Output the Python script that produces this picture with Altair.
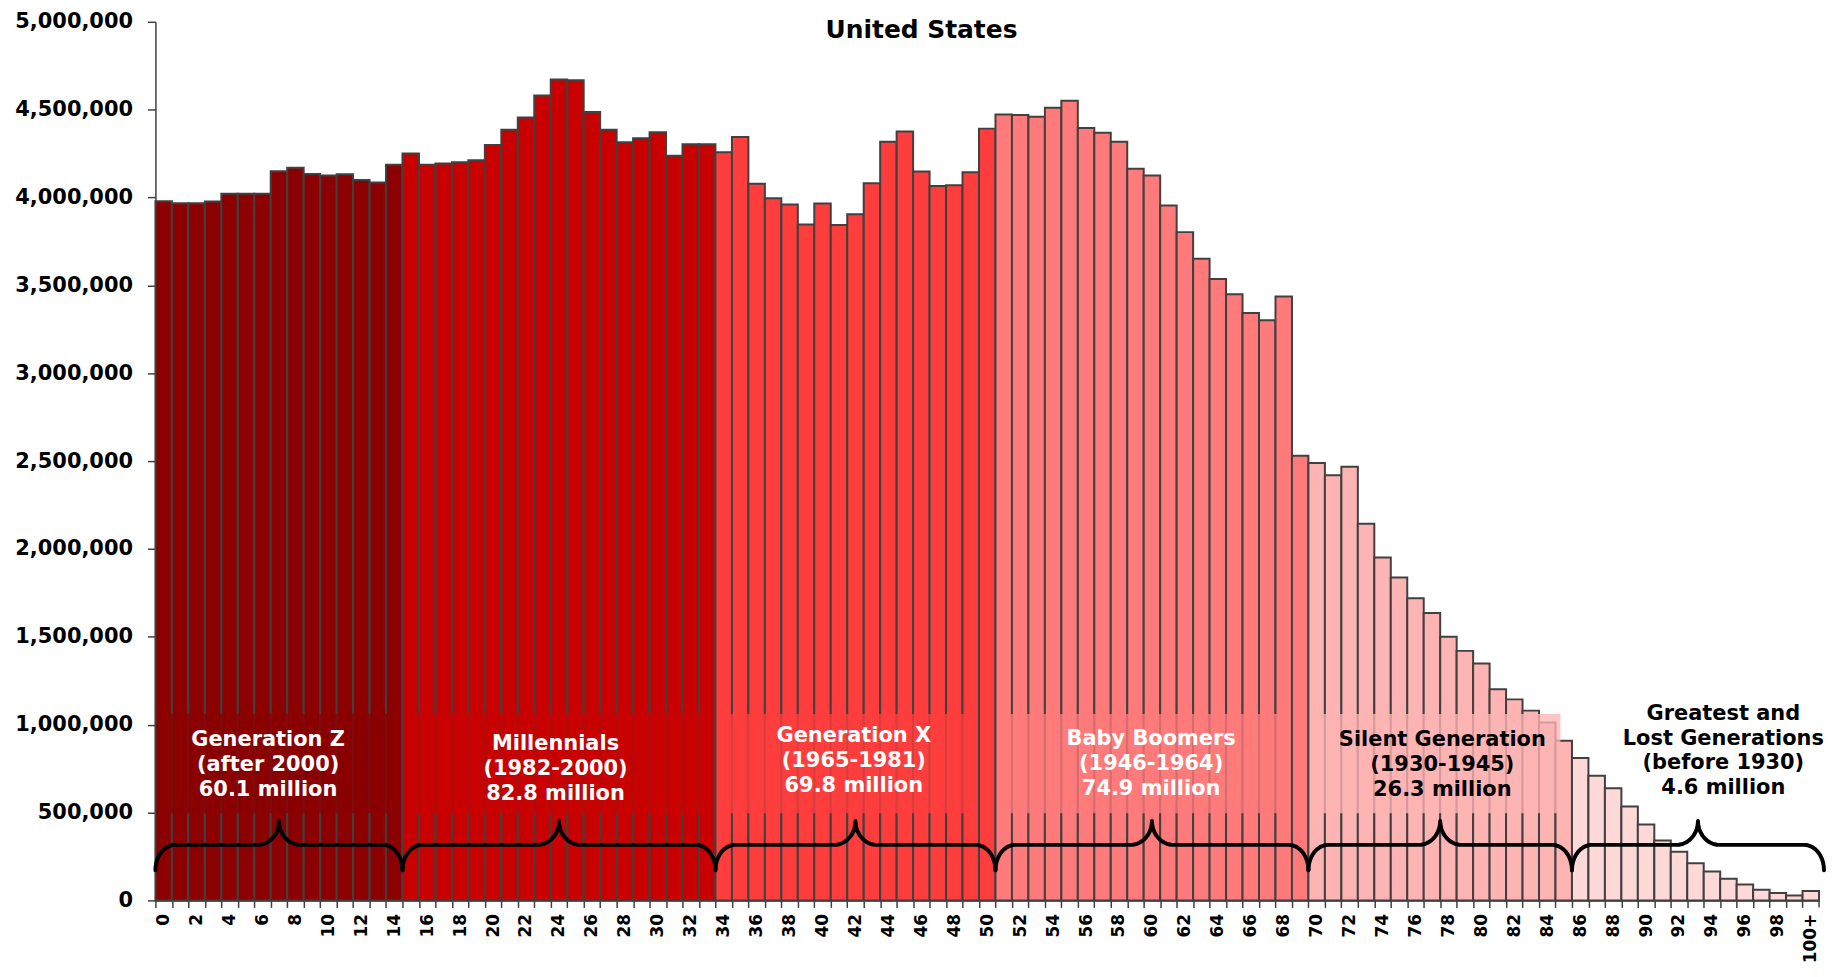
import altair as alt
import pandas as pd
import numpy as np

# ---------------- data ----------------
AGES = list(range(101))
AGE_LABELS = [str(a) for a in range(100)] + ["100+"]
POPULATION = [
    3979000, 3968000, 3968000, 3977000, 4021000, 4021000, 4021000, 4150000, 4169000, 4134000,
    4125000, 4133000, 4100000, 4085000, 4186000, 4250000, 4186000, 4193000, 4201000, 4212000,
    4299000, 4386000, 4455000, 4580000, 4672000, 4667000, 4487000, 4386000, 4314000, 4337000,
    4371000, 4237000, 4303000, 4303000, 4258000, 4345000, 4078000, 3996000, 3960000, 3847000,
    3966000, 3843000, 3905000, 4081000, 4318000, 4375000, 4148000, 4066000, 4070000, 4144000,
    4392000, 4473000, 4470000, 4460000, 4511000, 4551000, 4396000, 4369000, 4318000, 4163000,
    4125000, 3955000, 3803000, 3651000, 3536000, 3449000, 3343000, 3301000, 3436000, 2530000,
    2489000, 2420000, 2468000, 2144000, 1951000, 1837000, 1720000, 1636000, 1500000, 1420000,
    1348000, 1202000, 1144000, 1080000, 1013000, 909000, 811000, 710000, 638000, 534000,
    432000, 341000, 277000, 212000, 165000, 123000, 91000, 61000, 42000, 28000,
    53000,
]

GEN_NAMES = ["Generation Z", "Millennials", "Generation X", "Baby Boomers",
             "Silent Generation", "Greatest and Lost Generations"]
GEN_START = [0, 15, 34, 51, 70, 86]          # first age of each generation
GEN_END = [15, 34, 51, 70, 86, 101]          # bar edge after last age
GEN_COLORS = ["#8B0000", "#C80000", "#FF3D3D", "#FF7A7A", "#FFB4B4", "#FFD8D8"]
GEN_TEXT = [
    ["Generation Z", "(after 2000)", "60.1 million"],
    ["Millennials", "(1982-2000)", "82.8 million"],
    ["Generation X", "(1965-1981)", "69.8 million"],
    ["Baby Boomers", "(1946-1964)", "74.9 million"],
    ["Silent Generation", "(1930-1945)", "26.3 million"],
    ["Greatest and", "Lost Generations", "(before 1930)", "4.6 million"],
]
GEN_TEXT_COLOR = ["white", "white", "white", "white", "black", "black"]
# annotation placement (age units / population units)
TEXT_X = [6.84, 24.29, 42.4, 60.45, 78.13, 95.19]
TEXT_Y = [770000, 750000, 794000, 776000, 770000, 850000]
BOX_X0 = [0.9, 15.5, 34.8, 51.6, 70.6, None]
BOX_X1 = [14.1, 33.4, 49.7, 68.6, 85.3, None]
BOX_BOTTOM, BOX_TOP = 496000, 1061000
BRACE_END, BRACE_LINE, BRACE_TIP = 172000, 316000, 452000
BRACE_RIGHT_LAST = 101.3
TITLE = "United States"

Y_MAX = 5000000
PX_PER_UNIT_Y = 880 / Y_MAX
LINE_H = 25 / PX_PER_UNIT_Y
EDGE_TICK = -7 / PX_PER_UNIT_Y

FONT = "DejaVu Sans"

# ---------------- tables ----------------
def gen_of(age):
    for g, (s, e) in enumerate(zip(GEN_START, GEN_END)):
        if s <= age < e:
            return GEN_NAMES[g]
    return GEN_NAMES[-1]

bars_df = pd.DataFrame({
    "age": AGES,
    "age_end": [a + 1 for a in AGES],
    "label": AGE_LABELS,
    "pop": POPULATION,
    "base": [0] * len(AGES),
    "gen": [gen_of(a) for a in AGES],
})

box_rows = []
for g in range(len(GEN_NAMES)):
    if BOX_X0[g] is not None:
        box_rows.append({"gen": GEN_NAMES[g], "x0": BOX_X0[g], "x1": BOX_X1[g],
                         "y0": BOX_BOTTOM, "y1": BOX_TOP})
box_df = pd.DataFrame(box_rows)

text_rows = []
for g, lines in enumerate(GEN_TEXT):
    n = len(lines)
    for k, ln in enumerate(lines):
        text_rows.append({"line": ln, "x": TEXT_X[g],
                          "y": TEXT_Y[g] - (k - (n - 1) / 2) * LINE_H,
                          "tc": GEN_TEXT_COLOR[g], "key": f"{g}-{k}"})
text_df = pd.DataFrame(text_rows)

R_END, R_TIP = 1.2, 1.3
def brace_points(a, b, n=14):
    m = (a + b) / 2
    pts = []
    for k in range(n + 1):
        t = k / n * np.pi / 2
        pts.append((a + R_END * (1 - np.cos(t)), BRACE_END + (BRACE_LINE - BRACE_END) * np.sin(t)))
    for k in range(n + 1):
        t = k / n * np.pi / 2
        pts.append((m - R_TIP + R_TIP * np.sin(t), BRACE_LINE + (BRACE_TIP - BRACE_LINE) * (1 - np.cos(t))))
    right = [(2 * m - x, y) for (x, y) in reversed(pts)]
    return pts + right

brace_rows = []
for g in range(len(GEN_NAMES)):
    b_end = GEN_END[g] if g < len(GEN_NAMES) - 1 else BRACE_RIGHT_LAST
    for i, (x, y) in enumerate(brace_points(GEN_START[g], b_end)):
        brace_rows.append({"gen": GEN_NAMES[g], "i": i, "x": x, "y": y})
brace_df = pd.DataFrame(brace_rows)

# ---------------- scales / axes ----------------
x_scale = alt.Scale(domain=[0, 101], nice=False, zero=False)
y_scale = alt.Scale(domain=[0, Y_MAX], nice=False)
color_scale = alt.Scale(domain=GEN_NAMES, range=GEN_COLORS)

x_axis = alt.Axis(
    values=list(range(101)),
    labelExpr="datum.value == 100 ? '100+' : ((datum.value % 2 == 0) ? '' + datum.value : '')",
    labelAngle=270, labelOffset=8.25, labelPadding=6,
    labelOverlap=False, labelFlush=False, tickSize=7,
    grid=False, title=None,
)
y_axis = alt.Axis(
    values=list(range(0, Y_MAX + 1, 500000)),
    labelExpr="format(datum.value, ',')",
    labelPadding=15, tickSize=8,
    labelFlush=False, grid=False, title=None, minExtent=148, maxExtent=148,
)

bars = alt.Chart(bars_df).mark_rect(stroke="#404040", strokeWidth=2).encode(
    x=alt.X("age:Q", scale=x_scale, axis=x_axis),
    x2="age_end:Q",
    y=alt.Y("pop:Q", scale=y_scale, axis=y_axis),
    y2="base:Q",
    fill=alt.Fill("gen:N", scale=color_scale, legend=None),
)

# closing tick at the right edge of the last bar
edge_tick = alt.Chart(pd.DataFrame({"e": [GEN_END[-1]]})).mark_rule(
    color="#404040", strokeWidth=1.5
).encode(
    x=alt.X("e:Q", scale=x_scale, axis=x_axis),
    y=alt.datum(0),
    y2=alt.datum(EDGE_TICK),
)

boxes = alt.Chart(box_df).mark_rect(opacity=0.78).encode(
    x=alt.X("x0:Q", scale=x_scale, axis=x_axis),
    x2="x1:Q",
    y=alt.Y("y0:Q", scale=y_scale, axis=y_axis),
    y2="y1:Q",
    fill=alt.Fill("gen:N", scale=color_scale, legend=None),
)

texts = alt.Chart(text_df).mark_text(
    font=FONT, fontSize=21, fontWeight="bold", align="center", baseline="middle"
).encode(
    x=alt.X("x:Q", scale=x_scale, axis=x_axis),
    y=alt.Y("y:Q", scale=y_scale, axis=y_axis),
    text="line:N",
    color=alt.Color("tc:N", scale=None),
    detail="key:N",
)

braces = alt.Chart(brace_df).mark_line(
    color="black", strokeWidth=4, strokeCap="round", strokeJoin="round"
).encode(
    x=alt.X("x:Q", scale=x_scale, axis=x_axis),
    y=alt.Y("y:Q", scale=y_scale, axis=y_axis),
    detail="gen:N",
    order="i:Q",
)

title = alt.Chart(pd.DataFrame({"t": [TITLE]})).mark_text(
    font=FONT, fontSize=25, fontWeight="bold", align="center", baseline="middle", color="black"
).encode(
    text="t:N",
    x=alt.value(769),
    y=alt.value(8),
)

chart = alt.layer(bars, edge_tick, boxes, braces, texts, title).properties(
    width=1826, height=956,
    padding={"left": 0, "top": 1, "right": 0, "bottom": -1},
    autosize=alt.AutoSizeParams(type="fit", contains="padding"),
).configure_view(
    stroke=None
).configure_axis(
    labelFont=FONT, labelFontWeight="bold", labelColor="black",
    tickColor="#404040", domainColor="#404040", domainWidth=1.5, tickWidth=1.5,
).configure_axisX(
    labelFontSize=17,
).configure_axisY(
    labelFontSize=21,
)

chart.save("out.html", embed_options={"renderer": "svg", "actions": False})
